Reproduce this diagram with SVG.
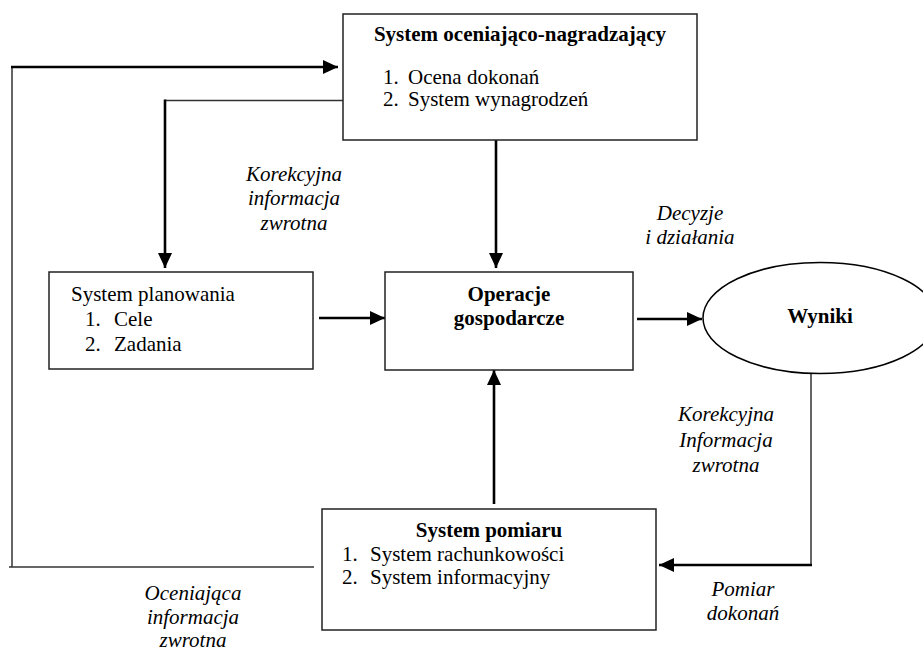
<svg xmlns="http://www.w3.org/2000/svg" width="923" height="651" viewBox="0 0 923 651">
<style>
.box{fill:#fff;stroke:#222;stroke-width:1.5}
.t{font-family:"Liberation Serif","Times New Roman",serif;font-size:21px;fill:#000}
.b{font-weight:bold}
.i{font-style:italic}
.thick{fill:none;stroke:#000;stroke-width:2.6}
.thin{fill:none;stroke:#333;stroke-width:1.5}
</style>
<defs>
<marker id="ah" viewBox="0 0 15 14" refX="15" refY="7" markerWidth="15" markerHeight="14" markerUnits="userSpaceOnUse" orient="auto">
<path d="M0,0 L15,7 L0,14 Z" fill="#000"/>
</marker>
</defs>
<g id="connectors">
<path class="thin" d="M314,567 H9"/>
<path class="thin" d="M12,567 V66"/>
<path class="thick" d="M11,67 H338" marker-end="url(#ah)"/>
<path class="thin" d="M343,100.5 H165"/>
<path class="thick" d="M165,99.5 V268" marker-end="url(#ah)"/>
<path class="thick" d="M496,140 V268" marker-end="url(#ah)"/>
<path class="thick" d="M319,318 H385" marker-end="url(#ah)"/>
<path class="thick" d="M637,319 H702" marker-end="url(#ah)"/>
<path class="thin" d="M811,374 V566"/>
<path class="thick" d="M812,565 H659" marker-end="url(#ah)"/>
<path class="thick" d="M494,504 V370" marker-end="url(#ah)"/>
</g>
<g id="n-ocena">
<rect class="box" x="343" y="14" width="354" height="126"/>
<text class="t b" x="520" y="41" text-anchor="middle">System oceniająco-nagradzający</text>
<text class="t" x="383" y="84">1.</text>
<text class="t" x="408" y="84">Ocena dokonań</text>
<text class="t" x="383" y="106">2.</text>
<text class="t" x="408" y="106">System wynagrodzeń</text>
</g>
<g id="n-planowanie">
<rect class="box" x="49" y="272" width="264" height="97"/>
<text class="t" x="71" y="301">System planowania</text>
<text class="t" x="85" y="326">1.</text>
<text class="t" x="114" y="326">Cele</text>
<text class="t" x="85" y="351">2.</text>
<text class="t" x="114" y="351">Zadania</text>
</g>
<g id="n-operacje">
<rect class="box" x="385" y="272" width="248" height="98"/>
<text class="t b" x="509" y="301" text-anchor="middle">Operacje</text>
<text class="t b" x="509" y="325" text-anchor="middle">gospodarcze</text>
</g>
<g id="n-wyniki">
<ellipse cx="820" cy="318" rx="117" ry="55.5" fill="#fff" stroke="#000" stroke-width="1.5"/>
<text class="t b" x="820" y="323" text-anchor="middle">Wyniki</text>
</g>
<g id="n-pomiar">
<rect class="box" x="322" y="509" width="334" height="121"/>
<text class="t b" x="489" y="537" text-anchor="middle">System pomiaru</text>
<text class="t" x="342" y="561">1.</text>
<text class="t" x="370" y="561">System rachunkowości</text>
<text class="t" x="342" y="584">2.</text>
<text class="t" x="370" y="584">System informacyjny</text>
</g>
<g id="labels">
<text class="t i" text-anchor="middle" x="294" y="181">Korekcyjna</text>
<text class="t i" text-anchor="middle" x="294" y="205">informacja</text>
<text class="t i" text-anchor="middle" x="294" y="230">zwrotna</text>
<text class="t i" text-anchor="middle" x="690" y="220">Decyzje</text>
<text class="t i" text-anchor="middle" x="690" y="244">i działania</text>
<text class="t i" text-anchor="middle" x="726" y="421">Korekcyjna</text>
<text class="t i" text-anchor="middle" x="726" y="447">Informacja</text>
<text class="t i" text-anchor="middle" x="726" y="472">zwrotna</text>
<text class="t i" text-anchor="middle" x="743" y="596">Pomiar</text>
<text class="t i" text-anchor="middle" x="743" y="620">dokonań</text>
<text class="t i" text-anchor="middle" x="193" y="600">Oceniająca</text>
<text class="t i" text-anchor="middle" x="193" y="624">informacja</text>
<text class="t i" text-anchor="middle" x="193" y="647">zwrotna</text>
</g>
</svg>
